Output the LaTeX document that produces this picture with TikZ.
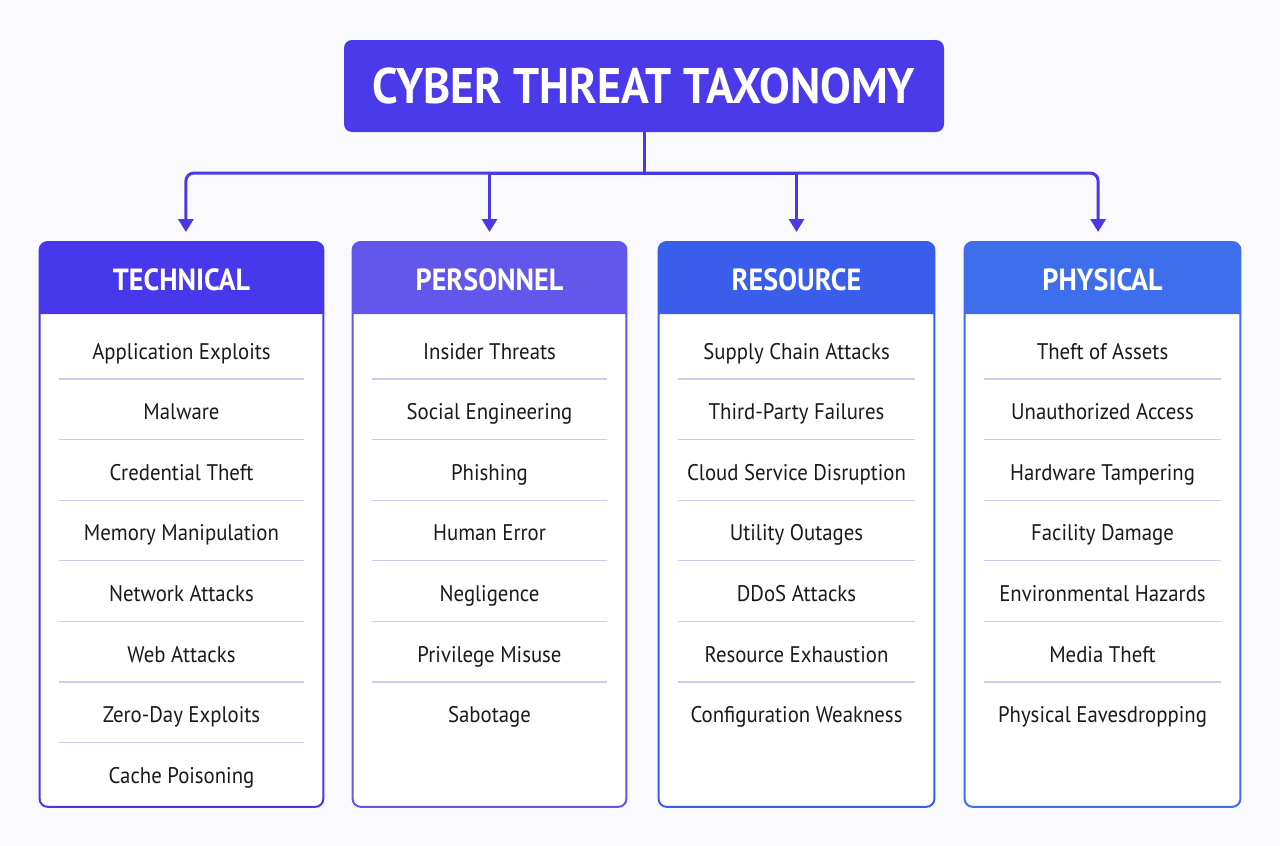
\documentclass[tikz,border=0pt]{standalone}
\usepackage{fontspec}
\setmainfont{PT Sans}
\newfontfamily\condfont[FakeStretch=0.92]{PT Sans}
\usetikzlibrary{arrows.meta,positioning,calc}
\definecolor{PageBg} {RGB}{250,250,252}
\definecolor{TitleB} {RGB}{74, 58, 234}
\definecolor{LinkB}  {RGB}{74, 58, 226}
\definecolor{TechC}  {RGB}{72, 56, 236}
\definecolor{PersC}  {RGB}{99, 86, 235}
\definecolor{ResC}   {RGB}{58, 94, 235}
\definecolor{PhysC}  {RGB}{62,110, 236}
\definecolor{SepL}   {RGB}{204,204,238}
\definecolor{InkD}   {RGB}{26, 26, 30}

\begin{document}
\begin{tikzpicture}[x=0.5pt,y=-0.5pt,
    link/.style={LinkB,line width=1.5pt},
    arrowlink/.style={link,-{Triangle[width=7.5pt,length=6.5pt]}},
    colbox/.style={fill=white,inner sep=0pt,minimum height=282pt,anchor=north},
    head/.style={text=white,font=\condfont\bfseries\fontsize{15.3}{17}\selectfont},
    item/.style={text=InkD,anchor=base,font=\condfont\fontsize{11.3}{13}\selectfont},
    sepline/.style={SepL,line width=0.6pt}]
  \fill[PageBg] (0,0) rectangle (1280,846);
  \useasboundingbox (0,0) rectangle (1280,846);

  % title
  \node[fill=TitleB,text=white,rounded corners=4pt,minimum width=300pt,minimum height=46pt,
        font=\condfont\bfseries\fontsize{25}{28}\selectfont] (title) at (644,86) {CYBER THREAT TAXONOMY};

  % the four columns
  \foreach \nm/\cx/\w/\col/\ttl/\lst in {
      tech/181.5/283/TechC/TECHNICAL/{Application Exploits,Malware,Credential Theft,Memory Manipulation,
                                     Network Attacks,Web Attacks,Zero-Day Exploits,Cache Poisoning},
      pers/489.5/273/PersC/PERSONNEL/{Insider Threats,Social Engineering,Phishing,Human Error,
                                     Negligence,Privilege Misuse,Sabotage},
      res/796.5/275/ResC/RESOURCE/{Supply Chain Attacks,Third-Party Failures,Cloud Service Disruption,
                                  Utility Outages,DDoS Attacks,Resource Exhaustion,Configuration Weakness},
      phys/1102.5/275/PhysC/PHYSICAL/{Theft of Assets,Unauthorized Access,Hardware Tampering,Facility Damage,
                                     Environmental Hazards,Media Theft,Physical Eavesdropping}}{
    \node[colbox,minimum width=\w*0.5pt] (\nm) at (\cx,242) {};
    \fill[\col] ($(\nm.north west)+(0,72)$) [rounded corners=4pt] -- (\nm.north west)
      -- (\nm.north east) [sharp corners] -- ($(\nm.north east)+(0,72)$) -- cycle;
    \draw[\col,line width=1pt,rounded corners=4pt] (\nm.north west) rectangle (\nm.south east);
    \node[head] (\nm-head) at (\cx,280) {\ttl};
    \foreach \t [count=\i] in \lst {
      \node[item] (\nm-\i) at (\cx,{359+60.6*(\i-1)}) {\t};
      \ifnum\i>1
        \draw[sepline] ($(\nm.north west)+(19,{137+60.6*(\i-2)})$)
          -- ($(\nm.north east)+(-19,{137+60.6*(\i-2)})$);
      \fi
    }
  }

  % connectors
  \coordinate (bus) at (644,173);
  \draw[link] (title.south) -- (bus);
  \draw[arrowlink,rounded corners=4pt] (bus) -| ([xshift=2.2pt,yshift=5pt]tech.north);
  \draw[arrowlink,rounded corners=4pt] (bus) -| ([xshift=-2.2pt,yshift=5pt]phys.north);
  \draw[arrowlink] (bus) -| ([yshift=5pt]pers.north);
  \draw[arrowlink] (bus) -| ([yshift=5pt]res.north);
\end{tikzpicture}
\end{document}
